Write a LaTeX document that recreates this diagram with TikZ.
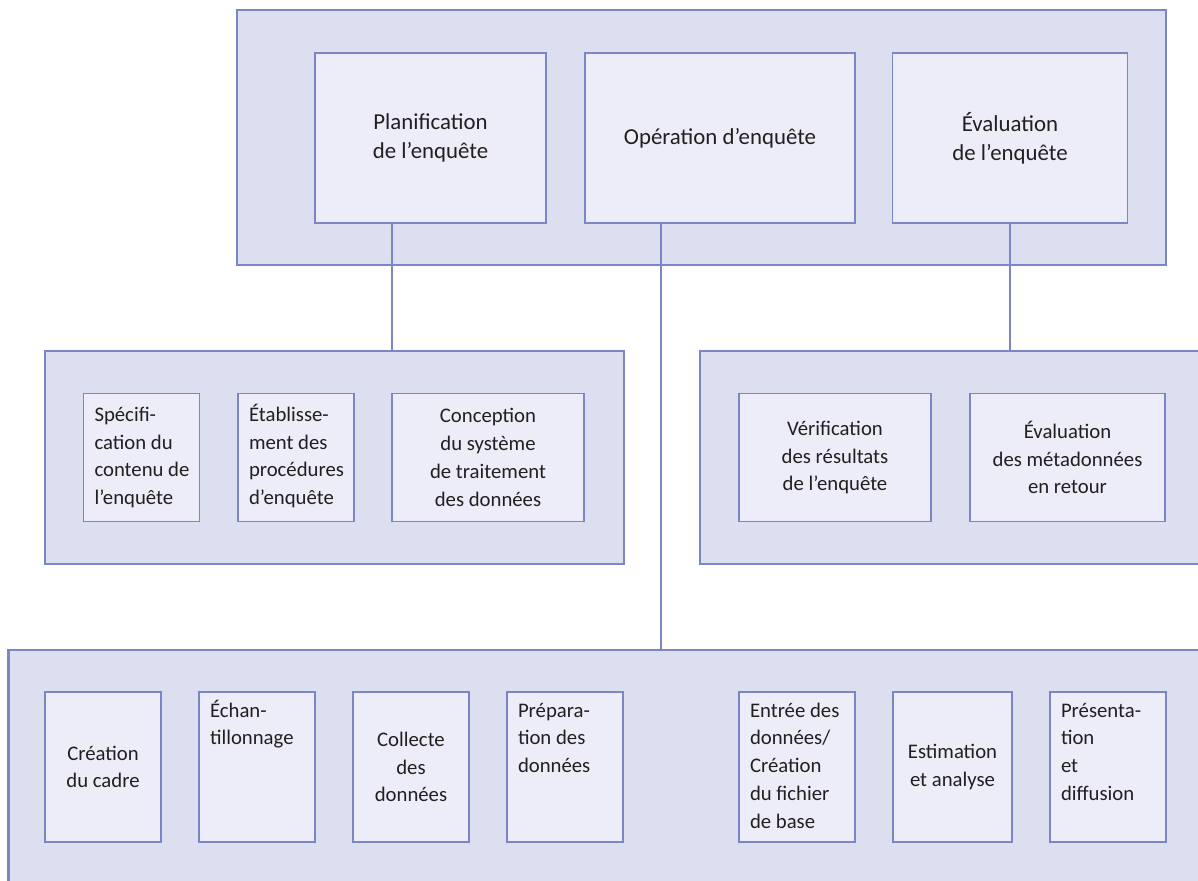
\documentclass[tikz,border=0pt]{standalone}
\usepackage{fontspec}
\setmainfont{Carlito}
\definecolor{frame}{RGB}{123,134,198}
\definecolor{outerfill}{RGB}{220,223,240}
\definecolor{innerfill}{RGB}{236,237,248}
\definecolor{ink}{RGB}{35,31,32}
\tikzset{
  group/.style={draw=frame, fill=outerfill, line width=1.6pt},
  cell/.style={draw=frame, fill=innerfill, line width=0.85pt, text=ink, align=center,
    inner sep=0pt, font=\fontsize{11.8}{15.8}\selectfont},
  bigcell/.style={cell, minimum height=3.40cm, font=\fontsize{13}{16.4}\selectfont},
  link/.style={draw=frame, line width=1.25pt},
}
\newcommand{\leftlines}[2]{\parbox{#1}{\begin{tabular}{@{}l@{}}#2\end{tabular}}}
\newcommand{\toplines}[2]{\parbox[c][5\baselineskip][t]{#1}{\begin{tabular}{@{}l@{}}#2\end{tabular}}}
\begin{document}
\begin{tikzpicture}[x=0.02cm, y=-0.02cm]
    \useasboundingbox (0,0) rectangle (1198,880);
    \clip (0,0) rectangle (1198,880);

    % Top level
    \node[group, minimum width=18.58cm, minimum height=5.10cm] (top) at (701.5,137.5) {};
    \node[bigcell, minimum width=4.62cm] (plan) at (430.5,138) {Planification\\de l’enquête};
    \node[bigcell, minimum width=5.40cm] (oper) at (720,138) {Opération d’enquête};
    \node[bigcell, minimum width=4.70cm] (eval) at (1010,138) {Évaluation\\de l’enquête};

    % Planning
    \node[group, minimum width=11.58cm, minimum height=4.26cm] (midl) at (334.5,457.5) {};
    \node[cell, minimum width=2.32cm, minimum height=2.56cm] (spec) at (141.5,457.5) {\leftlines{1.88cm}{Spécifi-\\cation du\\contenu de\\l’enquête}};
    \node[cell, minimum width=2.32cm, minimum height=2.56cm] (etab) at (296,457.5) {\leftlines{1.88cm}{Établisse-\\ment des\\procédures\\d’enquête}};
    \node[cell, minimum width=3.84cm, minimum height=2.56cm] (conc) at (488,457.5) {Conception\\du système\\de traitement\\des données};

    % Evaluation
    \node[group, minimum width=10.20cm, minimum height=4.26cm] (midr) at (955,457.5) {};
    \node[cell, minimum width=3.84cm, minimum height=2.56cm] (verif) at (835,457.5) {Vérification\\des résultats\\de l’enquête};
    \node[cell, minimum width=3.90cm, minimum height=2.56cm] (evmeta) at (1067.5,457.5) {Évaluation\\des métadonnées\\en retour};

    % Operation
    \node[group, minimum width=24.06cm, minimum height=5.00cm] (bottom) at (610,775) {};
    \node[cell, minimum width=2.32cm, minimum height=3cm] (crea) at (103,767) {Création\\du cadre};
    \node[cell, minimum width=2.32cm, minimum height=3cm] (echan) at (257,767) {\toplines{1.88cm}{Échan-\\tillonnage}};
    \node[cell, minimum width=2.32cm, minimum height=3cm] (coll) at (411,767) {Collecte\\des\\données};
    \node[cell, minimum width=2.32cm, minimum height=3cm] (prep) at (565,767) {\toplines{1.88cm}{Prépara-\\tion des\\données}};
    \node[cell, minimum width=2.32cm, minimum height=3cm] (entr) at (797,767) {\leftlines{1.88cm}{Entrée des\\données/\\Création\\du fichier\\de base}};
    \node[cell, minimum width=2.38cm, minimum height=3cm] (esti) at (952.5,767) {Estimation\\et analyse};
    \node[cell, minimum width=2.32cm, minimum height=3cm] (pres) at (1108,767) {\toplines{1.88cm}{Présenta-\\tion\\et\\diffusion}};

    % Connections
    \coordinate (planfoot) at (392,351);
    \coordinate (opfoot) at (661,650);
    \draw[link] (plan.south -| planfoot) -- (planfoot);
    \draw[link] (oper.south -| opfoot) -- (opfoot);
    \draw[link] (eval.south) -- (eval.south |- midr.north);
\end{tikzpicture}
\end{document}
